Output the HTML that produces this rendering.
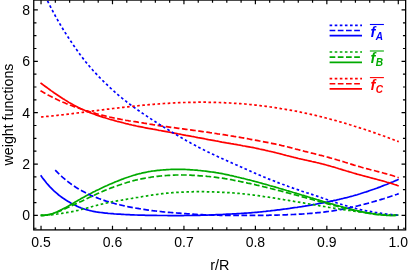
<!DOCTYPE html>
<html><head><meta charset="utf-8"><title>weight functions</title>
<style>
html,body{margin:0;padding:0;background:#fff;}
body{width:409px;height:273px;overflow:hidden;font-family:"Liberation Sans",sans-serif;}
svg{display:block;will-change:transform;opacity:0.999;}
text{font-family:"Liberation Sans",sans-serif;font-size:14px;fill:#000;}
</style></head><body>
<svg width="409" height="273" viewBox="0 0 409 273">
<rect x="0" y="0" width="409" height="273" fill="#fff"/>
<defs><clipPath id="cp"><rect x="33.75" y="0.05" width="371.9" height="229.85"/></clipPath></defs>
<g clip-path="url(#cp)" fill="none" stroke-width="1.7" stroke-linecap="butt" stroke-linejoin="round">
<path d="M40.7 175.3 L42.2 177.4 L43.7 179.4 L45.2 181.3 L46.7 183.2 L48.2 184.9 L49.7 186.6 L51.2 188.1 L52.7 189.7 L54.2 191.1 L55.7 192.4 L57.2 193.7 L58.7 195.0 L60.2 196.1 L61.7 197.2 L63.2 198.3 L64.7 199.3 L66.2 200.3 L67.7 201.2 L69.2 202.1 L70.7 203.0 L72.2 203.8 L73.7 204.6 L75.2 205.3 L76.7 206.1 L78.2 206.7 L79.7 207.4 L81.2 208.0 L82.7 208.5 L84.2 209.0 L85.7 209.5 L87.2 209.9 L88.7 210.3 L90.2 210.7 L91.7 211.0 L93.2 211.3 L94.7 211.6 L96.2 211.9 L97.7 212.1 L99.2 212.3 L100.7 212.5 L102.2 212.7 L103.7 212.9 L105.2 213.1 L106.7 213.2 L108.2 213.4 L109.7 213.5 L111.2 213.6 L112.7 213.7 L114.2 213.9 L115.7 214.0 L117.2 214.1 L118.7 214.2 L120.2 214.2 L121.7 214.3 L123.2 214.4 L124.7 214.5 L126.2 214.6 L127.7 214.6 L129.2 214.7 L130.7 214.8 L132.2 214.8 L133.7 214.9 L135.2 215.0 L136.7 215.0 L138.2 215.1 L139.7 215.1 L141.2 215.2 L142.7 215.2 L144.2 215.2 L145.7 215.3 L147.2 215.3 L148.7 215.3 L150.2 215.3 L151.7 215.4 L153.2 215.4 L154.7 215.4 L156.2 215.4 L157.7 215.5 L159.2 215.5 L160.7 215.5 L162.2 215.5 L163.7 215.5 L165.2 215.5 L166.7 215.5 L168.2 215.6 L169.7 215.6 L171.2 215.6 L172.7 215.6 L174.2 215.6 L175.7 215.6 L177.2 215.6 L178.7 215.6 L180.2 215.6 L181.7 215.6 L183.2 215.6 L184.7 215.5 L186.2 215.5 L187.7 215.5 L189.2 215.5 L190.7 215.5 L192.2 215.4 L193.7 215.4 L195.2 215.4 L196.7 215.4 L198.2 215.3 L199.7 215.3 L201.2 215.2 L202.7 215.2 L204.2 215.2 L205.7 215.1 L207.2 215.1 L208.7 215.0 L210.2 215.0 L211.7 214.9 L213.2 214.8 L214.7 214.8 L216.2 214.7 L217.7 214.7 L219.2 214.6 L220.7 214.5 L222.2 214.5 L223.7 214.4 L225.2 214.3 L226.7 214.2 L228.2 214.2 L229.7 214.1 L231.2 214.0 L232.7 213.9 L234.2 213.8 L235.7 213.8 L237.2 213.7 L238.7 213.6 L240.2 213.5 L241.7 213.4 L243.2 213.3 L244.7 213.2 L246.2 213.1 L247.7 213.0 L249.2 212.9 L250.7 212.8 L252.2 212.6 L253.7 212.5 L255.2 212.4 L256.7 212.3 L258.2 212.1 L259.7 212.0 L261.2 211.8 L262.7 211.7 L264.2 211.5 L265.7 211.4 L267.2 211.2 L268.7 211.0 L270.2 210.9 L271.7 210.7 L273.2 210.5 L274.7 210.3 L276.2 210.1 L277.7 209.9 L279.2 209.8 L280.7 209.6 L282.2 209.4 L283.7 209.2 L285.2 209.0 L286.7 208.8 L288.2 208.6 L289.7 208.4 L291.2 208.1 L292.7 207.9 L294.2 207.7 L295.7 207.5 L297.2 207.3 L298.7 207.0 L300.2 206.8 L301.7 206.6 L303.2 206.3 L304.7 206.1 L306.2 205.8 L307.7 205.6 L309.2 205.3 L310.7 205.1 L312.2 204.8 L313.7 204.5 L315.2 204.3 L316.7 204.0 L318.2 203.7 L319.7 203.4 L321.2 203.1 L322.7 202.9 L324.2 202.6 L325.7 202.3 L327.2 202.0 L328.7 201.7 L330.2 201.4 L331.7 201.1 L333.2 200.7 L334.7 200.4 L336.2 200.1 L337.7 199.7 L339.2 199.4 L340.7 199.0 L342.2 198.7 L343.7 198.3 L345.2 197.9 L346.7 197.6 L348.2 197.2 L349.7 196.8 L351.2 196.4 L352.7 196.0 L354.2 195.5 L355.7 195.1 L357.2 194.7 L358.7 194.2 L360.2 193.8 L361.7 193.3 L363.2 192.8 L364.7 192.3 L366.2 191.9 L367.7 191.4 L369.2 190.8 L370.7 190.3 L372.2 189.8 L373.7 189.3 L375.2 188.7 L376.7 188.2 L378.2 187.6 L379.7 187.1 L381.2 186.5 L382.7 185.9 L384.2 185.3 L385.7 184.8 L387.2 184.2 L388.7 183.5 L390.2 182.9 L391.7 182.3 L393.2 181.7 L394.7 181.0 L396.2 180.4 L397.7 179.7 L398.7 179.3" stroke="#0000ff"/>
<path d="M40.7 215.4 L42.2 215.3 L43.7 215.3 L45.2 215.1 L46.7 215.0 L48.2 214.7 L49.7 214.4 L51.2 214.0 L52.7 213.6 L54.2 213.0 L55.7 212.4 L57.2 211.7 L58.7 210.9 L60.2 210.2 L61.7 209.5 L63.2 208.7 L64.7 207.9 L66.2 207.2 L67.7 206.4 L69.2 205.6 L70.7 204.7 L72.2 203.9 L73.7 203.0 L75.2 202.1 L76.7 201.2 L78.2 200.3 L79.7 199.5 L81.2 198.6 L82.7 197.7 L84.2 196.9 L85.7 196.1 L87.2 195.2 L88.7 194.4 L90.2 193.7 L91.7 192.9 L93.2 192.1 L94.7 191.4 L96.2 190.6 L97.7 189.9 L99.2 189.2 L100.7 188.4 L102.2 187.7 L103.7 187.0 L105.2 186.3 L106.7 185.7 L108.2 185.0 L109.7 184.3 L111.2 183.7 L112.7 183.1 L114.2 182.4 L115.7 181.8 L117.2 181.2 L118.7 180.6 L120.2 180.0 L121.7 179.4 L123.2 178.9 L124.7 178.3 L126.2 177.8 L127.7 177.3 L129.2 176.7 L130.7 176.3 L132.2 175.8 L133.7 175.3 L135.2 174.9 L136.7 174.4 L138.2 174.0 L139.7 173.6 L141.2 173.3 L142.7 172.9 L144.2 172.6 L145.7 172.3 L147.2 172.0 L148.7 171.7 L150.2 171.5 L151.7 171.2 L153.2 171.0 L154.7 170.8 L156.2 170.6 L157.7 170.4 L159.2 170.3 L160.7 170.1 L162.2 170.0 L163.7 169.9 L165.2 169.8 L166.7 169.7 L168.2 169.6 L169.7 169.5 L171.2 169.4 L172.7 169.4 L174.2 169.4 L175.7 169.3 L177.2 169.3 L178.7 169.3 L180.2 169.3 L181.7 169.4 L183.2 169.4 L184.7 169.4 L186.2 169.5 L187.7 169.6 L189.2 169.7 L190.7 169.8 L192.2 169.9 L193.7 170.0 L195.2 170.1 L196.7 170.2 L198.2 170.4 L199.7 170.5 L201.2 170.7 L202.7 170.8 L204.2 171.0 L205.7 171.2 L207.2 171.4 L208.7 171.6 L210.2 171.8 L211.7 172.0 L213.2 172.2 L214.7 172.4 L216.2 172.7 L217.7 172.9 L219.2 173.2 L220.7 173.4 L222.2 173.7 L223.7 174.0 L225.2 174.3 L226.7 174.6 L228.2 174.9 L229.7 175.3 L231.2 175.6 L232.7 175.9 L234.2 176.3 L235.7 176.6 L237.2 177.0 L238.7 177.3 L240.2 177.7 L241.7 178.1 L243.2 178.4 L244.7 178.8 L246.2 179.2 L247.7 179.6 L249.2 179.9 L250.7 180.3 L252.2 180.7 L253.7 181.1 L255.2 181.5 L256.7 181.9 L258.2 182.3 L259.7 182.7 L261.2 183.1 L262.7 183.6 L264.2 184.0 L265.7 184.4 L267.2 184.8 L268.7 185.2 L270.2 185.7 L271.7 186.1 L273.2 186.5 L274.7 186.9 L276.2 187.4 L277.7 187.8 L279.2 188.3 L280.7 188.7 L282.2 189.1 L283.7 189.6 L285.2 190.0 L286.7 190.5 L288.2 190.9 L289.7 191.4 L291.2 191.8 L292.7 192.3 L294.2 192.7 L295.7 193.1 L297.2 193.6 L298.7 194.0 L300.2 194.5 L301.7 195.0 L303.2 195.4 L304.7 195.9 L306.2 196.3 L307.7 196.8 L309.2 197.2 L310.7 197.7 L312.2 198.1 L313.7 198.6 L315.2 199.0 L316.7 199.5 L318.2 199.9 L319.7 200.4 L321.2 200.8 L322.7 201.3 L324.2 201.7 L325.7 202.2 L327.2 202.6 L328.7 203.0 L330.2 203.5 L331.7 203.9 L333.2 204.3 L334.7 204.8 L336.2 205.2 L337.7 205.6 L339.2 206.0 L340.7 206.5 L342.2 206.9 L343.7 207.3 L345.2 207.7 L346.7 208.1 L348.2 208.5 L349.7 208.9 L351.2 209.2 L352.7 209.6 L354.2 210.0 L355.7 210.3 L357.2 210.7 L358.7 211.0 L360.2 211.4 L361.7 211.7 L363.2 212.0 L364.7 212.3 L366.2 212.6 L367.7 212.9 L369.2 213.2 L370.7 213.5 L372.2 213.7 L373.7 213.9 L375.2 214.2 L376.7 214.4 L378.2 214.5 L379.7 214.7 L381.2 214.9 L382.7 215.0 L384.2 215.1 L385.7 215.2 L387.2 215.3 L388.7 215.3 L390.2 215.4 L391.7 215.4 L393.2 215.3 L394.7 215.3 L396.2 215.2 L397.7 215.1 L398.3 215.1" stroke="#00aa00"/>
<path d="M40.5 82.9 L42.0 84.0 L43.5 85.1 L45.0 86.2 L46.5 87.3 L48.0 88.4 L49.5 89.5 L51.0 90.6 L52.5 91.6 L54.0 92.7 L55.5 93.7 L57.0 94.7 L58.5 95.7 L60.0 96.7 L61.5 97.7 L63.0 98.7 L64.5 99.6 L66.0 100.6 L67.5 101.5 L69.0 102.4 L70.5 103.2 L72.0 104.1 L73.5 104.9 L75.0 105.7 L76.5 106.5 L78.0 107.3 L79.5 108.0 L81.0 108.7 L82.5 109.4 L84.0 110.1 L85.5 110.8 L87.0 111.4 L88.5 112.0 L90.0 112.6 L91.5 113.2 L93.0 113.8 L94.5 114.3 L96.0 114.9 L97.5 115.4 L99.0 115.9 L100.5 116.4 L102.0 116.9 L103.5 117.4 L105.0 117.8 L106.5 118.3 L108.0 118.7 L109.5 119.2 L111.0 119.6 L112.5 120.0 L114.0 120.4 L115.5 120.9 L117.0 121.3 L118.5 121.6 L120.0 122.0 L121.5 122.4 L123.0 122.8 L124.5 123.2 L126.0 123.6 L127.5 123.9 L129.0 124.3 L130.5 124.6 L132.0 125.0 L133.5 125.3 L135.0 125.6 L136.5 126.0 L138.0 126.3 L139.5 126.6 L141.0 126.9 L142.5 127.2 L144.0 127.5 L145.5 127.8 L147.0 128.1 L148.5 128.4 L150.0 128.6 L151.5 128.9 L153.0 129.2 L154.5 129.4 L156.0 129.7 L157.5 130.0 L159.0 130.3 L160.5 130.5 L162.0 130.8 L163.5 131.1 L165.0 131.4 L166.5 131.7 L168.0 132.0 L169.5 132.2 L171.0 132.5 L172.5 132.8 L174.0 133.1 L175.5 133.4 L177.0 133.7 L178.5 134.0 L180.0 134.2 L181.5 134.5 L183.0 134.8 L184.5 135.1 L186.0 135.4 L187.5 135.6 L189.0 135.9 L190.5 136.2 L192.0 136.5 L193.5 136.7 L195.0 137.0 L196.5 137.3 L198.0 137.6 L199.5 137.8 L201.0 138.1 L202.5 138.4 L204.0 138.7 L205.5 139.0 L207.0 139.3 L208.5 139.6 L210.0 139.8 L211.5 140.1 L213.0 140.4 L214.5 140.7 L216.0 141.0 L217.5 141.2 L219.0 141.5 L220.5 141.8 L222.0 142.1 L223.5 142.3 L225.0 142.6 L226.5 142.9 L228.0 143.1 L229.5 143.4 L231.0 143.7 L232.5 143.9 L234.0 144.2 L235.5 144.4 L237.0 144.7 L238.5 145.0 L240.0 145.2 L241.5 145.5 L243.0 145.8 L244.5 146.0 L246.0 146.3 L247.5 146.6 L249.0 146.9 L250.5 147.2 L252.0 147.4 L253.5 147.7 L255.0 148.0 L256.5 148.3 L258.0 148.6 L259.5 149.0 L261.0 149.3 L262.5 149.6 L264.0 149.9 L265.5 150.3 L267.0 150.6 L268.5 151.0 L270.0 151.3 L271.5 151.7 L273.0 152.0 L274.5 152.4 L276.0 152.8 L277.5 153.2 L279.0 153.5 L280.5 153.9 L282.0 154.3 L283.5 154.7 L285.0 155.1 L286.5 155.5 L288.0 155.8 L289.5 156.2 L291.0 156.6 L292.5 157.0 L294.0 157.4 L295.5 157.7 L297.0 158.1 L298.5 158.5 L300.0 158.8 L301.5 159.2 L303.0 159.5 L304.5 159.8 L306.0 160.2 L307.5 160.5 L309.0 160.8 L310.5 161.1 L312.0 161.5 L313.5 161.8 L315.0 162.1 L316.5 162.5 L318.0 162.8 L319.5 163.2 L321.0 163.6 L322.5 164.0 L324.0 164.4 L325.5 164.8 L327.0 165.2 L328.5 165.6 L330.0 166.0 L331.5 166.5 L333.0 166.9 L334.5 167.3 L336.0 167.8 L337.5 168.2 L339.0 168.7 L340.5 169.1 L342.0 169.6 L343.5 170.1 L345.0 170.5 L346.5 171.0 L348.0 171.4 L349.5 171.9 L351.0 172.3 L352.5 172.8 L354.0 173.2 L355.5 173.6 L357.0 174.1 L358.5 174.5 L360.0 174.9 L361.5 175.3 L363.0 175.7 L364.5 176.1 L366.0 176.5 L367.5 176.9 L369.0 177.3 L370.5 177.7 L372.0 178.1 L373.5 178.5 L375.0 178.9 L376.5 179.3 L378.0 179.7 L379.5 180.1 L381.0 180.5 L382.5 180.9 L384.0 181.3 L385.5 181.7 L387.0 182.2 L388.5 182.6 L390.0 183.0 L391.5 183.5 L393.0 184.0 L394.5 184.5 L396.0 184.9 L397.5 185.5 L398.7 185.9" stroke="#ff0000"/>
<path d="M55.2 170.2 L56.7 171.7 L58.2 173.2 L59.7 174.6 L61.2 176.0 L62.7 177.4 L64.2 178.6 L65.7 179.9 L67.2 181.1 L68.7 182.3 L70.2 183.4 L71.7 184.5 L73.2 185.5 L74.7 186.5 L76.2 187.5 L77.7 188.4 L79.2 189.3 L80.7 190.2 L82.2 191.0 L83.7 191.8 L85.2 192.6 L86.7 193.4 L88.2 194.1 L89.7 194.8 L91.2 195.5 L92.7 196.1 L94.2 196.7 L95.7 197.3 L97.2 197.9 L98.7 198.5 L100.2 199.0 L101.7 199.6 L103.2 200.1 L104.7 200.6 L106.2 201.1 L107.7 201.5 L109.2 202.0 L110.7 202.4 L112.2 202.9 L113.7 203.3 L115.2 203.7 L116.7 204.1 L118.2 204.4 L119.7 204.8 L121.2 205.2 L122.7 205.5 L124.2 205.8 L125.7 206.2 L127.2 206.5 L128.7 206.8 L130.2 207.1 L131.7 207.4 L133.2 207.7 L134.7 207.9 L136.2 208.2 L137.7 208.4 L139.2 208.7 L140.7 208.9 L142.2 209.2 L143.7 209.4 L145.2 209.6 L146.7 209.8 L148.2 210.1 L149.7 210.3 L151.2 210.5 L152.7 210.7 L154.2 210.8 L155.7 211.0 L157.2 211.2 L158.7 211.4 L160.2 211.5 L161.7 211.7 L163.2 211.8 L164.7 212.0 L166.2 212.1 L167.7 212.3 L169.2 212.4 L170.7 212.5 L172.2 212.6 L173.7 212.8 L175.2 212.9 L176.7 213.0 L178.2 213.1 L179.7 213.2 L181.2 213.4 L182.7 213.5 L184.2 213.6 L185.7 213.7 L187.2 213.8 L188.7 213.9 L190.2 214.0 L191.7 214.1 L193.2 214.2 L194.7 214.3 L196.2 214.4 L197.7 214.5 L199.2 214.6 L200.7 214.7 L202.2 214.7 L203.7 214.8 L205.2 214.9 L206.7 214.9 L208.2 215.0 L209.7 215.0 L211.2 215.1 L212.7 215.1 L214.2 215.1 L215.7 215.2 L217.2 215.2 L218.7 215.2 L220.2 215.3 L221.7 215.3 L223.2 215.3 L224.7 215.3 L226.2 215.3 L227.7 215.3 L229.2 215.4 L230.7 215.4 L232.2 215.4 L233.7 215.4 L235.2 215.4 L236.7 215.4 L238.2 215.4 L239.7 215.4 L241.2 215.4 L242.7 215.4 L244.2 215.4 L245.7 215.4 L247.2 215.4 L248.7 215.4 L250.2 215.4 L251.7 215.4 L253.2 215.4 L254.7 215.4 L256.2 215.4 L257.7 215.4 L259.2 215.4 L260.7 215.3 L262.2 215.3 L263.7 215.3 L265.2 215.3 L266.7 215.3 L268.2 215.3 L269.7 215.2 L271.2 215.2 L272.7 215.2 L274.2 215.1 L275.7 215.1 L277.2 215.1 L278.7 215.0 L280.2 215.0 L281.7 214.9 L283.2 214.9 L284.7 214.9 L286.2 214.8 L287.7 214.7 L289.2 214.7 L290.7 214.6 L292.2 214.5 L293.7 214.5 L295.2 214.4 L296.7 214.3 L298.2 214.2 L299.7 214.1 L301.2 214.1 L302.7 214.0 L304.2 213.9 L305.7 213.8 L307.2 213.6 L308.7 213.5 L310.2 213.4 L311.7 213.3 L313.2 213.1 L314.7 213.0 L316.2 212.9 L317.7 212.7 L319.2 212.6 L320.7 212.4 L322.2 212.2 L323.7 212.1 L325.2 211.9 L326.7 211.7 L328.2 211.5 L329.7 211.3 L331.2 211.1 L332.7 210.9 L334.2 210.6 L335.7 210.4 L337.2 210.2 L338.7 209.9 L340.2 209.6 L341.7 209.4 L343.2 209.1 L344.7 208.8 L346.2 208.5 L347.7 208.2 L349.2 207.9 L350.7 207.5 L352.2 207.2 L353.7 206.9 L355.2 206.5 L356.7 206.2 L358.2 205.8 L359.7 205.4 L361.2 205.0 L362.7 204.7 L364.2 204.3 L365.7 203.9 L367.2 203.5 L368.7 203.1 L370.2 202.7 L371.7 202.2 L373.2 201.8 L374.7 201.4 L376.2 200.9 L377.7 200.5 L379.2 200.1 L380.7 199.6 L382.2 199.1 L383.7 198.7 L385.2 198.2 L386.7 197.7 L388.2 197.2 L389.7 196.7 L391.2 196.2 L392.7 195.7 L394.2 195.2 L395.7 194.7 L397.2 194.2 L398.7 193.6" stroke="#0000ff" stroke-dasharray="5.7 2.5"/>
<path d="M40.7 215.4 L42.2 215.4 L43.7 215.3 L45.2 215.2 L46.7 215.0 L48.2 214.8 L49.7 214.6 L51.2 214.2 L52.7 213.8 L54.2 213.3 L55.7 212.8 L57.2 212.2 L58.7 211.5 L60.2 210.9 L61.7 210.2 L63.2 209.6 L64.7 208.9 L66.2 208.2 L67.7 207.5 L69.2 206.9 L70.7 206.2 L72.2 205.5 L73.7 204.8 L75.2 204.1 L76.7 203.5 L78.2 202.8 L79.7 202.1 L81.2 201.4 L82.7 200.7 L84.2 200.0 L85.7 199.3 L87.2 198.5 L88.7 197.8 L90.2 197.1 L91.7 196.4 L93.2 195.7 L94.7 195.0 L96.2 194.3 L97.7 193.6 L99.2 192.9 L100.7 192.2 L102.2 191.6 L103.7 190.9 L105.2 190.3 L106.7 189.7 L108.2 189.1 L109.7 188.5 L111.2 187.9 L112.7 187.4 L114.2 186.8 L115.7 186.3 L117.2 185.8 L118.7 185.2 L120.2 184.7 L121.7 184.2 L123.2 183.7 L124.7 183.2 L126.2 182.8 L127.7 182.3 L129.2 181.9 L130.7 181.4 L132.2 181.0 L133.7 180.6 L135.2 180.2 L136.7 179.9 L138.2 179.5 L139.7 179.2 L141.2 178.9 L142.7 178.6 L144.2 178.3 L145.7 178.0 L147.2 177.7 L148.7 177.5 L150.2 177.3 L151.7 177.0 L153.2 176.8 L154.7 176.7 L156.2 176.5 L157.7 176.3 L159.2 176.1 L160.7 176.0 L162.2 175.8 L163.7 175.7 L165.2 175.6 L166.7 175.5 L168.2 175.4 L169.7 175.3 L171.2 175.2 L172.7 175.1 L174.2 175.1 L175.7 175.0 L177.2 175.0 L178.7 175.0 L180.2 174.9 L181.7 175.0 L183.2 175.0 L184.7 175.0 L186.2 175.0 L187.7 175.1 L189.2 175.1 L190.7 175.2 L192.2 175.3 L193.7 175.4 L195.2 175.4 L196.7 175.5 L198.2 175.6 L199.7 175.8 L201.2 175.9 L202.7 176.0 L204.2 176.1 L205.7 176.2 L207.2 176.4 L208.7 176.5 L210.2 176.7 L211.7 176.8 L213.2 177.0 L214.7 177.2 L216.2 177.4 L217.7 177.6 L219.2 177.8 L220.7 178.0 L222.2 178.2 L223.7 178.4 L225.2 178.7 L226.7 178.9 L228.2 179.2 L229.7 179.5 L231.2 179.7 L232.7 180.0 L234.2 180.3 L235.7 180.6 L237.2 180.9 L238.7 181.2 L240.2 181.5 L241.7 181.8 L243.2 182.1 L244.7 182.4 L246.2 182.7 L247.7 183.1 L249.2 183.4 L250.7 183.7 L252.2 184.1 L253.7 184.4 L255.2 184.7 L256.7 185.1 L258.2 185.4 L259.7 185.8 L261.2 186.1 L262.7 186.5 L264.2 186.9 L265.7 187.2 L267.2 187.6 L268.7 188.0 L270.2 188.3 L271.7 188.7 L273.2 189.1 L274.7 189.5 L276.2 189.9 L277.7 190.3 L279.2 190.6 L280.7 191.0 L282.2 191.4 L283.7 191.8 L285.2 192.2 L286.7 192.6 L288.2 193.0 L289.7 193.4 L291.2 193.8 L292.7 194.2 L294.2 194.6 L295.7 195.0 L297.2 195.4 L298.7 195.8 L300.2 196.3 L301.7 196.7 L303.2 197.1 L304.7 197.5 L306.2 197.9 L307.7 198.3 L309.2 198.7 L310.7 199.1 L312.2 199.5 L313.7 200.0 L315.2 200.4 L316.7 200.8 L318.2 201.2 L319.7 201.6 L321.2 202.0 L322.7 202.4 L324.2 202.8 L325.7 203.2 L327.2 203.6 L328.7 204.1 L330.2 204.5 L331.7 204.9 L333.2 205.3 L334.7 205.6 L336.2 206.0 L337.7 206.4 L339.2 206.8 L340.7 207.2 L342.2 207.6 L343.7 208.0 L345.2 208.3 L346.7 208.7 L348.2 209.1 L349.7 209.4 L351.2 209.8 L352.7 210.1 L354.2 210.4 L355.7 210.8 L357.2 211.1 L358.7 211.4 L360.2 211.7 L361.7 212.0 L363.2 212.3 L364.7 212.6 L366.2 212.9 L367.7 213.1 L369.2 213.4 L370.7 213.6 L372.2 213.9 L373.7 214.1 L375.2 214.3 L376.7 214.5 L378.2 214.6 L379.7 214.8 L381.2 214.9 L382.7 215.0 L384.2 215.1 L385.7 215.2 L387.2 215.3 L388.7 215.3 L390.2 215.4 L391.7 215.4 L393.2 215.4 L394.7 215.3 L396.2 215.3 L397.7 215.2 L398.3 215.2" stroke="#00aa00" stroke-dasharray="5.7 2.5"/>
<path d="M40.5 90.7 L42.0 91.6 L43.5 92.4 L45.0 93.3 L46.5 94.1 L48.0 95.0 L49.5 95.8 L51.0 96.5 L52.5 97.3 L54.0 98.1 L55.5 98.8 L57.0 99.5 L58.5 100.2 L60.0 100.9 L61.5 101.6 L63.0 102.2 L64.5 102.8 L66.0 103.5 L67.5 104.1 L69.0 104.7 L70.5 105.3 L72.0 105.8 L73.5 106.4 L75.0 106.9 L76.5 107.5 L78.0 108.0 L79.5 108.5 L81.0 109.0 L82.5 109.5 L84.0 110.0 L85.5 110.5 L87.0 110.9 L88.5 111.4 L90.0 111.8 L91.5 112.3 L93.0 112.7 L94.5 113.1 L96.0 113.6 L97.5 114.0 L99.0 114.4 L100.5 114.8 L102.0 115.2 L103.5 115.5 L105.0 115.9 L106.5 116.3 L108.0 116.6 L109.5 117.0 L111.0 117.3 L112.5 117.7 L114.0 118.0 L115.5 118.3 L117.0 118.6 L118.5 118.9 L120.0 119.2 L121.5 119.5 L123.0 119.7 L124.5 120.0 L126.0 120.3 L127.5 120.5 L129.0 120.8 L130.5 121.0 L132.0 121.2 L133.5 121.5 L135.0 121.7 L136.5 121.9 L138.0 122.2 L139.5 122.4 L141.0 122.7 L142.5 122.9 L144.0 123.2 L145.5 123.4 L147.0 123.7 L148.5 123.9 L150.0 124.2 L151.5 124.4 L153.0 124.7 L154.5 124.9 L156.0 125.2 L157.5 125.4 L159.0 125.6 L160.5 125.9 L162.0 126.1 L163.5 126.3 L165.0 126.5 L166.5 126.7 L168.0 126.9 L169.5 127.1 L171.0 127.3 L172.5 127.5 L174.0 127.7 L175.5 127.9 L177.0 128.1 L178.5 128.3 L180.0 128.5 L181.5 128.7 L183.0 128.9 L184.5 129.1 L186.0 129.3 L187.5 129.5 L189.0 129.7 L190.5 129.9 L192.0 130.1 L193.5 130.3 L195.0 130.5 L196.5 130.8 L198.0 131.0 L199.5 131.2 L201.0 131.4 L202.5 131.6 L204.0 131.8 L205.5 132.0 L207.0 132.2 L208.5 132.4 L210.0 132.7 L211.5 132.9 L213.0 133.1 L214.5 133.3 L216.0 133.5 L217.5 133.8 L219.0 134.0 L220.5 134.2 L222.0 134.5 L223.5 134.7 L225.0 134.9 L226.5 135.2 L228.0 135.4 L229.5 135.6 L231.0 135.9 L232.5 136.1 L234.0 136.4 L235.5 136.6 L237.0 136.9 L238.5 137.1 L240.0 137.4 L241.5 137.7 L243.0 137.9 L244.5 138.2 L246.0 138.5 L247.5 138.7 L249.0 139.0 L250.5 139.3 L252.0 139.6 L253.5 139.8 L255.0 140.1 L256.5 140.4 L258.0 140.7 L259.5 141.0 L261.0 141.2 L262.5 141.5 L264.0 141.8 L265.5 142.1 L267.0 142.4 L268.5 142.7 L270.0 143.0 L271.5 143.3 L273.0 143.6 L274.5 143.9 L276.0 144.2 L277.5 144.6 L279.0 144.9 L280.5 145.2 L282.0 145.6 L283.5 145.9 L285.0 146.3 L286.5 146.7 L288.0 147.0 L289.5 147.4 L291.0 147.8 L292.5 148.2 L294.0 148.6 L295.5 149.0 L297.0 149.3 L298.5 149.7 L300.0 150.1 L301.5 150.5 L303.0 150.9 L304.5 151.3 L306.0 151.6 L307.5 152.0 L309.0 152.4 L310.5 152.8 L312.0 153.2 L313.5 153.5 L315.0 153.9 L316.5 154.3 L318.0 154.7 L319.5 155.1 L321.0 155.4 L322.5 155.8 L324.0 156.2 L325.5 156.6 L327.0 157.0 L328.5 157.4 L330.0 157.9 L331.5 158.3 L333.0 158.7 L334.5 159.1 L336.0 159.5 L337.5 160.0 L339.0 160.4 L340.5 160.9 L342.0 161.3 L343.5 161.8 L345.0 162.3 L346.5 162.7 L348.0 163.2 L349.5 163.7 L351.0 164.1 L352.5 164.6 L354.0 165.1 L355.5 165.5 L357.0 166.0 L358.5 166.4 L360.0 166.8 L361.5 167.3 L363.0 167.7 L364.5 168.1 L366.0 168.5 L367.5 168.9 L369.0 169.3 L370.5 169.7 L372.0 170.1 L373.5 170.4 L375.0 170.8 L376.5 171.2 L378.0 171.6 L379.5 172.0 L381.0 172.4 L382.5 172.8 L384.0 173.2 L385.5 173.6 L387.0 174.0 L388.5 174.4 L390.0 174.9 L391.5 175.3 L393.0 175.8 L394.5 176.3 L396.0 176.7 L397.5 177.3 L398.7 177.7" stroke="#ff0000" stroke-dasharray="5.7 2.5"/>
<path d="M47.0 -0.2 L48.5 2.8 L50.0 5.8 L51.5 8.7 L53.0 11.6 L54.5 14.4 L56.0 17.1 L57.5 19.8 L59.0 22.4 L60.5 25.0 L62.0 27.5 L63.5 30.0 L65.0 32.4 L66.5 34.7 L68.0 37.0 L69.5 39.3 L71.0 41.5 L72.5 43.7 L74.0 45.9 L75.5 48.1 L77.0 50.2 L78.5 52.3 L80.0 54.4 L81.5 56.4 L83.0 58.4 L84.5 60.3 L86.0 62.2 L87.5 64.0 L89.0 65.8 L90.5 67.6 L92.0 69.3 L93.5 71.0 L95.0 72.6 L96.5 74.2 L98.0 75.8 L99.5 77.3 L101.0 78.9 L102.5 80.4 L104.0 81.8 L105.5 83.3 L107.0 84.7 L108.5 86.2 L110.0 87.6 L111.5 89.0 L113.0 90.3 L114.5 91.7 L116.0 93.0 L117.5 94.3 L119.0 95.6 L120.5 96.8 L122.0 98.1 L123.5 99.3 L125.0 100.5 L126.5 101.7 L128.0 102.8 L129.5 104.0 L131.0 105.1 L132.5 106.2 L134.0 107.3 L135.5 108.4 L137.0 109.4 L138.5 110.5 L140.0 111.5 L141.5 112.6 L143.0 113.6 L144.5 114.6 L146.0 115.6 L147.5 116.6 L149.0 117.6 L150.5 118.6 L152.0 119.6 L153.5 120.6 L155.0 121.5 L156.5 122.5 L158.0 123.4 L159.5 124.4 L161.0 125.3 L162.5 126.3 L164.0 127.2 L165.5 128.1 L167.0 129.1 L168.5 130.0 L170.0 130.9 L171.5 131.8 L173.0 132.7 L174.5 133.6 L176.0 134.5 L177.5 135.4 L179.0 136.3 L180.5 137.2 L182.0 138.1 L183.5 138.9 L185.0 139.8 L186.5 140.7 L188.0 141.5 L189.5 142.3 L191.0 143.2 L192.5 144.0 L194.0 144.8 L195.5 145.6 L197.0 146.4 L198.5 147.2 L200.0 148.0 L201.5 148.8 L203.0 149.5 L204.5 150.3 L206.0 151.0 L207.5 151.8 L209.0 152.5 L210.5 153.2 L212.0 153.9 L213.5 154.6 L215.0 155.3 L216.5 156.0 L218.0 156.7 L219.5 157.4 L221.0 158.1 L222.5 158.8 L224.0 159.5 L225.5 160.1 L227.0 160.8 L228.5 161.5 L230.0 162.1 L231.5 162.8 L233.0 163.5 L234.5 164.1 L236.0 164.8 L237.5 165.4 L239.0 166.1 L240.5 166.8 L242.0 167.4 L243.5 168.1 L245.0 168.8 L246.5 169.4 L248.0 170.1 L249.5 170.8 L251.0 171.4 L252.5 172.1 L254.0 172.8 L255.5 173.4 L257.0 174.1 L258.5 174.7 L260.0 175.3 L261.5 176.0 L263.0 176.6 L264.5 177.2 L266.0 177.8 L267.5 178.5 L269.0 179.1 L270.5 179.7 L272.0 180.3 L273.5 180.8 L275.0 181.4 L276.5 182.0 L278.0 182.6 L279.5 183.2 L281.0 183.7 L282.5 184.3 L284.0 184.8 L285.5 185.4 L287.0 185.9 L288.5 186.5 L290.0 187.0 L291.5 187.5 L293.0 188.1 L294.5 188.6 L296.0 189.1 L297.5 189.6 L299.0 190.1 L300.5 190.6 L302.0 191.2 L303.5 191.7 L305.0 192.2 L306.5 192.7 L308.0 193.1 L309.5 193.6 L311.0 194.1 L312.5 194.6 L314.0 195.1 L315.5 195.6 L317.0 196.1 L318.5 196.6 L320.0 197.1 L321.5 197.7 L323.0 198.2 L324.5 198.7 L326.0 199.2 L327.5 199.7 L329.0 200.2 L330.5 200.8 L332.0 201.3 L333.5 201.8 L335.0 202.3 L336.5 202.8 L338.0 203.3 L339.5 203.8 L341.0 204.2 L342.5 204.7 L344.0 205.2 L345.5 205.6 L347.0 206.0 L348.5 206.5 L350.0 206.9 L351.5 207.3 L353.0 207.7 L354.5 208.1 L356.0 208.5 L357.5 208.8 L359.0 209.2 L360.5 209.6 L362.0 209.9 L363.5 210.2 L365.0 210.5 L366.5 210.8 L368.0 211.1 L369.5 211.4 L371.0 211.7 L372.5 212.0 L374.0 212.2 L375.5 212.5 L377.0 212.7 L378.5 213.0 L380.0 213.2 L381.5 213.4 L383.0 213.6 L384.5 213.8 L386.0 214.0 L387.5 214.2 L389.0 214.4 L390.5 214.5 L392.0 214.7 L393.5 214.9 L395.0 215.0 L396.5 215.1 L398.0 215.3 L398.3 215.3" stroke="#0000ff" stroke-dasharray="2.6 2.5" stroke-dashoffset="-1.25"/>
<path d="M40.7 215.4 L42.2 215.4 L43.7 215.4 L45.2 215.3 L46.7 215.2 L48.2 215.1 L49.7 215.0 L51.2 214.9 L52.7 214.7 L54.2 214.5 L55.7 214.3 L57.2 214.0 L58.7 213.8 L60.2 213.6 L61.7 213.4 L63.2 213.1 L64.7 212.9 L66.2 212.7 L67.7 212.4 L69.2 212.2 L70.7 211.9 L72.2 211.6 L73.7 211.3 L75.2 211.0 L76.7 210.6 L78.2 210.3 L79.7 209.9 L81.2 209.5 L82.7 209.2 L84.2 208.8 L85.7 208.4 L87.2 208.0 L88.7 207.6 L90.2 207.1 L91.7 206.7 L93.2 206.3 L94.7 205.9 L96.2 205.5 L97.7 205.1 L99.2 204.8 L100.7 204.4 L102.2 204.0 L103.7 203.7 L105.2 203.3 L106.7 203.0 L108.2 202.7 L109.7 202.4 L111.2 202.0 L112.7 201.7 L114.2 201.4 L115.7 201.2 L117.2 200.9 L118.7 200.6 L120.2 200.3 L121.7 200.1 L123.2 199.8 L124.7 199.5 L126.2 199.3 L127.7 199.0 L129.2 198.8 L130.7 198.5 L132.2 198.3 L133.7 198.0 L135.2 197.8 L136.7 197.5 L138.2 197.3 L139.7 197.0 L141.2 196.8 L142.7 196.5 L144.2 196.3 L145.7 196.1 L147.2 195.8 L148.7 195.6 L150.2 195.4 L151.7 195.1 L153.2 194.9 L154.7 194.7 L156.2 194.5 L157.7 194.3 L159.2 194.1 L160.7 193.9 L162.2 193.7 L163.7 193.6 L165.2 193.4 L166.7 193.2 L168.2 193.1 L169.7 193.0 L171.2 192.8 L172.7 192.7 L174.2 192.6 L175.7 192.5 L177.2 192.4 L178.7 192.3 L180.2 192.2 L181.7 192.2 L183.2 192.1 L184.7 192.0 L186.2 192.0 L187.7 191.9 L189.2 191.9 L190.7 191.8 L192.2 191.8 L193.7 191.7 L195.2 191.7 L196.7 191.7 L198.2 191.7 L199.7 191.7 L201.2 191.7 L202.7 191.7 L204.2 191.7 L205.7 191.8 L207.2 191.8 L208.7 191.8 L210.2 191.9 L211.7 191.9 L213.2 191.9 L214.7 192.0 L216.2 192.1 L217.7 192.1 L219.2 192.2 L220.7 192.2 L222.2 192.3 L223.7 192.4 L225.2 192.5 L226.7 192.5 L228.2 192.6 L229.7 192.7 L231.2 192.8 L232.7 192.9 L234.2 193.0 L235.7 193.1 L237.2 193.3 L238.7 193.4 L240.2 193.5 L241.7 193.7 L243.2 193.8 L244.7 194.0 L246.2 194.2 L247.7 194.3 L249.2 194.5 L250.7 194.7 L252.2 194.9 L253.7 195.1 L255.2 195.3 L256.7 195.5 L258.2 195.7 L259.7 195.9 L261.2 196.1 L262.7 196.3 L264.2 196.6 L265.7 196.8 L267.2 197.0 L268.7 197.2 L270.2 197.5 L271.7 197.7 L273.2 197.9 L274.7 198.1 L276.2 198.4 L277.7 198.6 L279.2 198.9 L280.7 199.1 L282.2 199.3 L283.7 199.6 L285.2 199.8 L286.7 200.1 L288.2 200.3 L289.7 200.6 L291.2 200.9 L292.7 201.1 L294.2 201.4 L295.7 201.6 L297.2 201.9 L298.7 202.1 L300.2 202.4 L301.7 202.7 L303.2 202.9 L304.7 203.2 L306.2 203.4 L307.7 203.7 L309.2 204.0 L310.7 204.2 L312.2 204.5 L313.7 204.7 L315.2 205.0 L316.7 205.2 L318.2 205.5 L319.7 205.8 L321.2 206.0 L322.7 206.3 L324.2 206.5 L325.7 206.8 L327.2 207.0 L328.7 207.3 L330.2 207.5 L331.7 207.8 L333.2 208.0 L334.7 208.3 L336.2 208.5 L337.7 208.7 L339.2 209.0 L340.7 209.2 L342.2 209.4 L343.7 209.7 L345.2 209.9 L346.7 210.1 L348.2 210.3 L349.7 210.5 L351.2 210.8 L352.7 211.0 L354.2 211.2 L355.7 211.4 L357.2 211.6 L358.7 211.8 L360.2 212.0 L361.7 212.2 L363.2 212.4 L364.7 212.5 L366.2 212.7 L367.7 212.9 L369.2 213.1 L370.7 213.2 L372.2 213.4 L373.7 213.5 L375.2 213.7 L376.7 213.8 L378.2 214.0 L379.7 214.1 L381.2 214.2 L382.7 214.4 L384.2 214.5 L385.7 214.6 L387.2 214.7 L388.7 214.8 L390.2 214.9 L391.7 215.0 L393.2 215.1 L394.7 215.2 L396.2 215.3 L397.7 215.4 L398.3 215.4" stroke="#00aa00" stroke-dasharray="2.6 2.5"/>
<path d="M41.0 117.0 L42.5 116.8 L44.0 116.7 L45.5 116.6 L47.0 116.4 L48.5 116.3 L50.0 116.1 L51.5 116.0 L53.0 115.8 L54.5 115.7 L56.0 115.5 L57.5 115.3 L59.0 115.2 L60.5 115.0 L62.0 114.8 L63.5 114.7 L65.0 114.5 L66.5 114.3 L68.0 114.1 L69.5 114.0 L71.0 113.8 L72.5 113.6 L74.0 113.4 L75.5 113.2 L77.0 113.0 L78.5 112.8 L80.0 112.7 L81.5 112.5 L83.0 112.3 L84.5 112.1 L86.0 111.9 L87.5 111.7 L89.0 111.5 L90.5 111.3 L92.0 111.1 L93.5 110.9 L95.0 110.8 L96.5 110.6 L98.0 110.4 L99.5 110.2 L101.0 110.0 L102.5 109.8 L104.0 109.6 L105.5 109.4 L107.0 109.2 L108.5 109.1 L110.0 108.9 L111.5 108.7 L113.0 108.5 L114.5 108.3 L116.0 108.2 L117.5 108.0 L119.0 107.8 L120.5 107.6 L122.0 107.4 L123.5 107.3 L125.0 107.1 L126.5 106.9 L128.0 106.8 L129.5 106.6 L131.0 106.4 L132.5 106.3 L134.0 106.1 L135.5 106.0 L137.0 105.8 L138.5 105.7 L140.0 105.5 L141.5 105.4 L143.0 105.2 L144.5 105.1 L146.0 105.0 L147.5 104.8 L149.0 104.7 L150.5 104.6 L152.0 104.4 L153.5 104.3 L155.0 104.2 L156.5 104.1 L158.0 104.0 L159.5 103.8 L161.0 103.7 L162.5 103.6 L164.0 103.5 L165.5 103.4 L167.0 103.3 L168.5 103.3 L170.0 103.2 L171.5 103.1 L173.0 103.0 L174.5 102.9 L176.0 102.9 L177.5 102.8 L179.0 102.7 L180.5 102.7 L182.0 102.6 L183.5 102.5 L185.0 102.5 L186.5 102.5 L188.0 102.4 L189.5 102.4 L191.0 102.3 L192.5 102.3 L194.0 102.3 L195.5 102.3 L197.0 102.3 L198.5 102.2 L200.0 102.2 L201.5 102.2 L203.0 102.2 L204.5 102.2 L206.0 102.2 L207.5 102.3 L209.0 102.3 L210.5 102.3 L212.0 102.3 L213.5 102.3 L215.0 102.4 L216.5 102.4 L218.0 102.5 L219.5 102.5 L221.0 102.6 L222.5 102.6 L224.0 102.7 L225.5 102.8 L227.0 102.8 L228.5 102.9 L230.0 103.0 L231.5 103.1 L233.0 103.2 L234.5 103.3 L236.0 103.4 L237.5 103.5 L239.0 103.6 L240.5 103.7 L242.0 103.8 L243.5 103.9 L245.0 104.0 L246.5 104.2 L248.0 104.3 L249.5 104.5 L251.0 104.6 L252.5 104.8 L254.0 104.9 L255.5 105.1 L257.0 105.2 L258.5 105.4 L260.0 105.6 L261.5 105.8 L263.0 106.0 L264.5 106.1 L266.0 106.3 L267.5 106.5 L269.0 106.7 L270.5 107.0 L272.0 107.2 L273.5 107.4 L275.0 107.6 L276.5 107.8 L278.0 108.1 L279.5 108.3 L281.0 108.6 L282.5 108.8 L284.0 109.1 L285.5 109.3 L287.0 109.6 L288.5 109.8 L290.0 110.1 L291.5 110.4 L293.0 110.7 L294.5 111.0 L296.0 111.2 L297.5 111.5 L299.0 111.8 L300.5 112.1 L302.0 112.5 L303.5 112.8 L305.0 113.1 L306.5 113.4 L308.0 113.7 L309.5 114.1 L311.0 114.4 L312.5 114.7 L314.0 115.1 L315.5 115.4 L317.0 115.8 L318.5 116.2 L320.0 116.5 L321.5 116.9 L323.0 117.3 L324.5 117.7 L326.0 118.0 L327.5 118.4 L329.0 118.8 L330.5 119.2 L332.0 119.6 L333.5 120.0 L335.0 120.4 L336.5 120.8 L338.0 121.3 L339.5 121.7 L341.0 122.1 L342.5 122.5 L344.0 123.0 L345.5 123.4 L347.0 123.9 L348.5 124.3 L350.0 124.8 L351.5 125.2 L353.0 125.7 L354.5 126.2 L356.0 126.6 L357.5 127.1 L359.0 127.6 L360.5 128.1 L362.0 128.5 L363.5 129.0 L365.0 129.5 L366.5 130.0 L368.0 130.5 L369.5 131.0 L371.0 131.6 L372.5 132.1 L374.0 132.6 L375.5 133.1 L377.0 133.6 L378.5 134.2 L380.0 134.7 L381.5 135.2 L383.0 135.8 L384.5 136.3 L386.0 136.9 L387.5 137.4 L389.0 138.0 L390.5 138.6 L392.0 139.1 L393.5 139.7 L395.0 140.3 L396.5 140.8 L398.0 141.4 L398.7 141.7" stroke="#ff0000" stroke-dasharray="2.6 2.5"/>
</g>
<g fill="none" stroke-width="1.7">
<path d="M329.6 25.35 H362" stroke="#0000ff" stroke-dasharray="2.6 2.5"/>
<path d="M329.6 30.50 H362" stroke="#0000ff" stroke-dasharray="5.7 2.5"/>
<path d="M329.6 35.70 H362" stroke="#0000ff"/>
<path d="M329.6 52.00 H362" stroke="#00aa00" stroke-dasharray="2.6 2.5"/>
<path d="M329.6 57.15 H362" stroke="#00aa00" stroke-dasharray="5.7 2.5"/>
<path d="M329.6 62.35 H362" stroke="#00aa00"/>
<path d="M329.6 78.60 H362" stroke="#ff0000" stroke-dasharray="2.6 2.5"/>
<path d="M329.6 83.75 H362" stroke="#ff0000" stroke-dasharray="5.7 2.5"/>
<path d="M329.6 88.95 H362" stroke="#ff0000"/>
</g>
<rect x="33.75" y="0.05" width="371.9" height="229.85" fill="none" stroke="#000" stroke-width="1.3"/>
<path d="M41.04 229.90 V225.80 M41.04 0.05 V4.15 M55.33 229.90 V227.20 M55.33 0.05 V2.75 M69.62 229.90 V227.20 M69.62 0.05 V2.75 M83.91 229.90 V227.20 M83.91 0.05 V2.75 M98.20 229.90 V227.20 M98.20 0.05 V2.75 M112.49 229.90 V225.80 M112.49 0.05 V4.15 M126.78 229.90 V227.20 M126.78 0.05 V2.75 M141.07 229.90 V227.20 M141.07 0.05 V2.75 M155.36 229.90 V227.20 M155.36 0.05 V2.75 M169.65 229.90 V227.20 M169.65 0.05 V2.75 M183.94 229.90 V225.80 M183.94 0.05 V4.15 M198.23 229.90 V227.20 M198.23 0.05 V2.75 M212.52 229.90 V227.20 M212.52 0.05 V2.75 M226.81 229.90 V227.20 M226.81 0.05 V2.75 M241.10 229.90 V227.20 M241.10 0.05 V2.75 M255.39 229.90 V225.80 M255.39 0.05 V4.15 M269.68 229.90 V227.20 M269.68 0.05 V2.75 M283.97 229.90 V227.20 M283.97 0.05 V2.75 M298.26 229.90 V227.20 M298.26 0.05 V2.75 M312.55 229.90 V227.20 M312.55 0.05 V2.75 M326.84 229.90 V225.80 M326.84 0.05 V4.15 M341.13 229.90 V227.20 M341.13 0.05 V2.75 M355.42 229.90 V227.20 M355.42 0.05 V2.75 M369.71 229.90 V227.20 M369.71 0.05 V2.75 M384.00 229.90 V227.20 M384.00 0.05 V2.75 M398.29 229.90 V225.80 M398.29 0.05 V4.15 M33.75 228.24 H36.45 M405.65 228.24 H402.95 M33.75 215.40 H37.85 M405.65 215.40 H401.55 M33.75 202.56 H36.45 M405.65 202.56 H402.95 M33.75 189.72 H36.45 M405.65 189.72 H402.95 M33.75 176.88 H36.45 M405.65 176.88 H402.95 M33.75 164.04 H37.85 M405.65 164.04 H401.55 M33.75 151.20 H36.45 M405.65 151.20 H402.95 M33.75 138.36 H36.45 M405.65 138.36 H402.95 M33.75 125.52 H36.45 M405.65 125.52 H402.95 M33.75 112.68 H37.85 M405.65 112.68 H401.55 M33.75 99.84 H36.45 M405.65 99.84 H402.95 M33.75 87.00 H36.45 M405.65 87.00 H402.95 M33.75 74.16 H36.45 M405.65 74.16 H402.95 M33.75 61.32 H37.85 M405.65 61.32 H401.55 M33.75 48.48 H36.45 M405.65 48.48 H402.95 M33.75 35.64 H36.45 M405.65 35.64 H402.95 M33.75 22.80 H36.45 M405.65 22.80 H402.95 M33.75 9.96 H37.85 M405.65 9.96 H401.55" stroke="#000" stroke-width="1.2" fill="none"/>
<g><text x="41.04" y="247.2" text-anchor="middle">0.5</text><text x="112.49" y="247.2" text-anchor="middle">0.6</text><text x="183.94" y="247.2" text-anchor="middle">0.7</text><text x="255.39" y="247.2" text-anchor="middle">0.8</text><text x="326.84" y="247.2" text-anchor="middle">0.9</text><text x="398.29" y="247.2" text-anchor="middle">1.0</text><text x="30" y="220.40" text-anchor="end">0</text><text x="30" y="169.04" text-anchor="end">2</text><text x="30" y="117.68" text-anchor="end">4</text><text x="30" y="66.32" text-anchor="end">6</text><text x="30" y="14.96" text-anchor="end">8</text>
<text x="219.9" y="269.7" text-anchor="middle" style="font-size:14.4px">r/R</text>
<text transform="translate(12.9,114.5) rotate(-90)" text-anchor="middle" style="font-size:14.2px">weight functions</text>
</g>
<path d="M369.9 24.50 H383.9" stroke="#0000ff" stroke-width="1.1"/><text x="370.6" y="36.70" style="fill:#0000ff;font-size:14.6px;font-weight:bold;font-style:italic">f</text><text transform="translate(375.7,39.70) scale(0.92,1)" style="fill:#0000ff;font-size:11px;font-weight:bold;font-style:italic">A</text><path d="M369.9 51.00 H383.9" stroke="#00aa00" stroke-width="1.1"/><text x="370.6" y="63.20" style="fill:#00aa00;font-size:14.6px;font-weight:bold;font-style:italic">f</text><text transform="translate(375.7,66.20) scale(0.92,1)" style="fill:#00aa00;font-size:11px;font-weight:bold;font-style:italic">B</text><path d="M369.9 77.60 H383.9" stroke="#ff0000" stroke-width="1.1"/><text x="370.6" y="89.80" style="fill:#ff0000;font-size:14.6px;font-weight:bold;font-style:italic">f</text><text transform="translate(375.7,92.80) scale(0.92,1)" style="fill:#ff0000;font-size:11px;font-weight:bold;font-style:italic">C</text>
</svg>
</body></html>
